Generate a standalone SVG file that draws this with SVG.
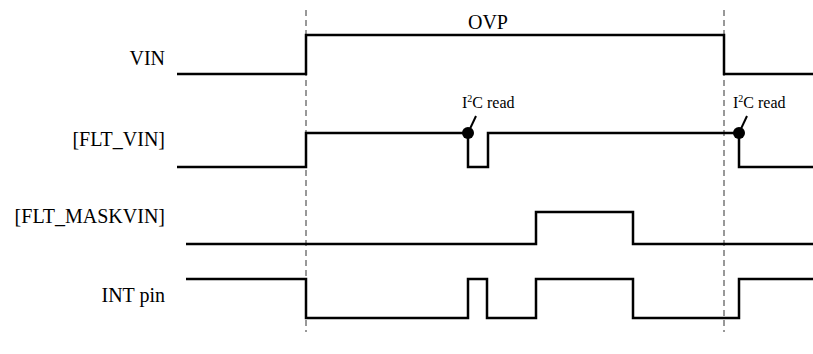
<svg xmlns="http://www.w3.org/2000/svg" width="813" height="354" viewBox="0 0 813 354">
<style>
.lbl{font-family:"Liberation Serif","Times New Roman",serif;font-size:20px;fill:#000}
.sm{font-family:"Liberation Serif","Times New Roman",serif;font-size:16px;fill:#000}
.wave{fill:none;stroke:#000;stroke-width:2.5;stroke-linejoin:miter}
.dash{fill:none;stroke:#333;stroke-width:1;stroke-dasharray:6 4}
.lead{stroke:#000;stroke-width:2}
</style>
<rect width="813" height="354" fill="#fff"/>
<g id="guides">
<line class="dash" x1="306" y1="10" x2="306" y2="332"/>
<line class="dash" x1="724" y1="10" x2="724" y2="332"/>
</g>
<g id="labels">
<text class="lbl" x="165" y="65" text-anchor="end">VIN</text>
<text class="lbl" x="165" y="146" text-anchor="end">[FLT_VIN]</text>
<text class="lbl" x="165" y="223" text-anchor="end">[FLT_MASKVIN]</text>
<text class="lbl" x="165" y="302" text-anchor="end">INT pin</text>
<text class="lbl" x="488" y="29" text-anchor="middle">OVP</text>
</g>
<g id="connectors">
<path id="vin" class="wave" d="M177 74 H306 V35 H724 V74 H813"/>
<path id="flt_vin" class="wave" d="M177 167 H306 V133 H468 V167 H488 V133 H739 V167 H813"/>
<path id="flt_maskvin" class="wave" d="M186 244 H536 V212 H633 V244 H813"/>
<path id="int_pin" class="wave" d="M186 279 H306 V318 H468 V279 H487 V318 H536 V279 H633 V318 H739 V279 H813"/>
</g>
<g id="read1">
<line class="lead" x1="468" y1="133" x2="476" y2="116"/>
<circle cx="468" cy="133" r="6" fill="#000"/>
<text class="sm" x="462" y="108">I<tspan font-size="10" dy="-6">2</tspan><tspan dy="6">C read</tspan></text>
</g>
<g id="read2">
<line class="lead" x1="739" y1="133" x2="747" y2="116"/>
<circle cx="739" cy="133" r="6" fill="#000"/>
<text class="sm" x="733" y="108">I<tspan font-size="10" dy="-6">2</tspan><tspan dy="6">C read</tspan></text>
</g>
</svg>
